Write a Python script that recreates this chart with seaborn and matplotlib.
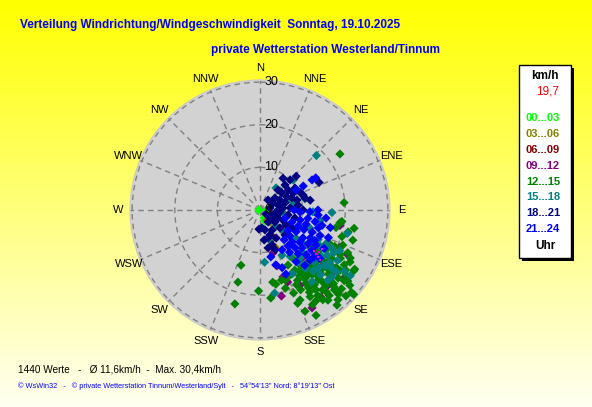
import numpy as np
import pandas as pd
import matplotlib
matplotlib.use('Agg')
import matplotlib.pyplot as plt
from matplotlib.patches import Rectangle
import seaborn as sns

plt.rcParams['font.family'] = ['Liberation Sans', 'DejaVu Sans']

# Richtung (Grad) und Geschwindigkeit (km/h), je Zeitklasse
dir_0003 = [270, 90, 130, 153, 156, 104, 120]
spd_0003 = [0.3, 1.6, 1.8, 2.1, 2.8, 1.9, 2.4]
dir_0306 = [110, 140, 158, 145, 160, 125]
spd_0306 = [3.5, 3.7, 9.4, 2.9, 9.1, 3.2]
dir_0609 = [158, 155]
spd_0609 = [7.4, 6.9]
dir_0912 = [152, 145, 166, 128, 115, 163, 163, 152, 101, 117, 159, 161, 144, 138, 131, 125, 128, 159, 137, 138, 133, 143]
spd_0912 = [26.0, 25.0, 20.8, 25.4, 20.7, 13.7, 10.5, 20.0, 19.1, 23.0, 18.1, 16.6, 17.3, 23.8, 22.5, 15.2, 16.1, 16.6, 20.3, 15.0, 19.6, 18.3]
dir_1215 = [144, 137, 135, 129, 124, 119, 145, 141, 136, 131, 127, 123, 152, 148, 144, 139, 135, 131, 127,
            149, 146, 141, 137, 134, 130, 146, 153, 150, 153, 145, 139, 135, 132, 130, 116, 113, 116, 121,
            126, 155, 163, 162, 168, 156, 141, 151, 123, 120, 108, 103, 99, 104, 116, 55, 85, 101, 108,
            197, 195, 181, 173, 199, 152, 156, 158, 132, 122, 98, 170, 147, 140, 139, 135, 138, 142, 141, 148, 127,
            133, 138, 142, 147, 128, 133, 125, 129, 137, 143, 148, 150, 154, 158, 160, 134, 139, 144, 121, 118,
            126, 131, 136, 145, 149]
spd_1215 = [16.0, 16.6, 18.4, 19.4, 20.3, 21.5, 17.8, 19.5, 20.3, 21.3, 22.4, 23.6, 18.7, 20.3, 21.7, 22.3, 23.2, 24.3, 25.3,
            22.5, 24.2, 24.7, 25.6, 26.6, 27.5, 13.5, 14.5, 16.3, 21.0, 25.7, 27.9, 28.5, 28.9, 25.8, 19.5, 21.1, 22.9, 18.1,
            16.8, 16.8, 17.2, 19.3, 17.8, 23.1, 28.7, 25.4, 26.2, 24.4, 20.2, 18.3, 19.0, 21.3, 18.3, 22.9, 19.8, 22.5, 22.9,
            17.7, 22.8, 19.0, 20.8, 13.7, 28.0, 26.0, 23.6, 29.6, 26.2, 19.4, 17.2, 19.1, 21.3, 23.5, 24.4, 18.3, 23.8, 25.8, 21.5, 23.5,
            17.5, 17.0, 18.5, 17.0, 21.0, 22.0, 24.5, 26.5, 27.0, 26.5, 25.0, 23.5, 19.5, 21.0, 17.5, 20.0, 20.0, 19.0, 22.0, 24.0,
            20.0, 18.0, 25.0, 22.8, 18.0]
dir_1518 = [46, 48, 36, 47, 76, 92, 92, 100, 105, 170, 153, 127, 117, 117, 120, 127, 134, 142, 127, 123, 140, 139, 128,
            133, 112, 110, 135, 162, 154, 137, 129, 126, 126, 136, 144, 117, 135, 175, 95, 78, 131, 129, 135, 123, 70,
            124, 130, 133, 139, 121, 118, 128, 143, 147]
spd_1518 = [18.4, 10.5, 6.4, 6.5, 10.9, 12.4, 16.9, 14.3, 21.2, 19.8, 16.8, 14.7, 15.3, 17.4, 20.0, 18.1, 17.6, 17.4, 20.5, 21.7, 14.7, 10.8, 10.7,
            7.6, 10.1, 12.5, 5.3, 7.4, 11.8, 20.8, 23.0, 24.5, 26.2, 22.9, 20.8, 21.0, 19.3, 12.3, 5.2, 8.1, 19.8, 21.7, 13.9, 13.9, 7.0,
            19.0, 20.3, 23.0, 19.0, 16.5, 19.0, 13.0, 15.5, 13.0]
dir_1821 = [39, 51, 52, 55, 58, 66, 75, 69, 74, 75, 79, 124, 113, 96, 86, 83, 90, 146, 129, 114, 166, 149, 132, 164, 150,
            161, 45, 45, 47, 36, 71, 79, 174, 183, 42, 100, 103, 135, 159, 65, 63, 64, 63, 62, 75, 85, 97, 129, 114, 120,
            119, 158, 172, 168]
spd_1821 = [3.0, 4.5, 6.5, 8.1, 9.7, 10.3, 10.9, 8.0, 6.1, 4.4, 2.4, 1.7, 3.1, 4.7, 7.1, 9.0, 10.1, 3.4, 4.5, 5.9, 4.8, 5.5, 6.3, 6.8, 7.6,
            8.7, 8.3, 10.0, 11.6, 9.2, 10.7, 12.0, 4.2, 4.5, 6.3, 6.7, 8.4, 8.3, 10.0, 15.3, 8.7, 7.0, 5.2, 3.5, 9.0, 5.4, 3.8, 3.0, 4.6, 7.0,
            8.6, 6.3, 7.1, 9.1]
dir_2124 = [108, 111, 104, 100, 102, 104, 104, 126, 121, 114, 113, 113, 112, 141, 135, 129, 125, 122, 121, 151, 145, 139,
            134, 131, 129, 145, 141, 164, 159, 158, 167, 93, 92, 90, 90, 128, 123, 119, 137, 60, 60, 61, 61, 95, 97, 131,
            113, 107, 119, 107, 132, 135, 142]
spd_2124 = [6.2, 8.0, 9.7, 11.4, 13.2, 15.0, 17.0, 8.1, 9.9, 11.3, 13.3, 15.3, 17.3, 9.0, 10.6, 12.0, 13.8, 15.5, 17.5, 10.7, 12.1, 13.6,
            15.1, 16.8, 18.0, 14.8, 16.7, 13.4, 14.5, 16.2, 11.3, 9.4, 11.7, 13.6, 8.0, 15.4, 12.0, 14.7, 12.1, 15.1, 14.1, 11.6, 9.7, 13.7, 15.6, 9.3,
            9.7, 11.3, 13.5, 14.3, 13.3, 16.6, 10.7]
# letzte Werte (kleine Punkte)
dir_last = [127, 128, 129, 130, 122, 125]
spd_last = [15.8, 16.7, 17.5, 18.3, 17.1, 17.0]

klassen = ['00...03', '03...06', '06...09', '09...12', '12...15', '15...18', '18...21', '21...24']
farben = ['#00FF00', '#808000', '#800000', '#800080', '#008000', '#008080', '#000080', '#0000FF']
richtungen = ['N', 'NNE', 'NE', 'ENE', 'E', 'ESE', 'SE', 'SSE', 'S', 'SSW', 'SW', 'WSW', 'W', 'WNW', 'NW', 'NNW']
ringe = [0, 10, 20, 30]

dirs = [dir_0003, dir_0306, dir_0609, dir_0912, dir_1215, dir_1518, dir_1821, dir_2124]
spds = [spd_0003, spd_0306, spd_0609, spd_0912, spd_1215, spd_1518, spd_1821, spd_2124]
frames = []
for k, d, s in zip(klassen, dirs, spds):
    frames.append(pd.DataFrame({'theta': np.deg2rad(d), 'speed': s, 'zeit': k}))
df = pd.concat(frames, ignore_index=True)

fig = plt.figure(figsize=(5.92, 4.07), dpi=100)

# Hintergrund: gelber Verlauf
bg = fig.add_axes([0, 0, 1, 1])
t = np.linspace(0, 1, 256)[:, None]
top = np.array([1.0, 1.0, 0.0])
bot = np.array([1.0, 1.0, 0.95])
grad = top[None, None, :] * (1 - t[:, :, None]) + bot[None, None, :] * t[:, :, None]
bg.imshow(np.repeat(grad, 2, axis=1), aspect='auto', extent=[0, 1, 0, 1], origin='upper')
bg.set_axis_off()

ax = fig.add_axes([130 / 592, 67 / 407, 260 / 592, 260 / 407], projection='polar')
ax.set_theta_zero_location('N')
ax.set_theta_direction(-1)
ax.set_facecolor('#D2D2D2')
ax.spines['polar'].set_color('#C8C8C8')

sns.scatterplot(data=df, x='theta', y='speed', hue='zeit', hue_order=klassen, palette=farben,
                marker='D', s=22, linewidth=0, legend=False, ax=ax, zorder=3)
ax.scatter(np.deg2rad(dir_last), spd_last, marker='s', s=3, color='#FF00FF', linewidths=0, zorder=4)

ax.set_ylim(0, 30.5)
ax.set_yticks(ringe[1:])
ax.set_yticklabels([])
ax.set_xticks(np.deg2rad(np.arange(0, 360, 22.5)))
ax.set_xticklabels([])
ax.grid(True, color='#808080', linestyle=(0, (4, 3)), linewidth=1)
ax.set_xlabel('')
ax.set_ylabel('')

for i, name in enumerate(richtungen):
    ax.text(np.deg2rad(i * 22.5), 33.3, name, ha='center', va='center', fontsize=8, clip_on=False)
for r in ringe:
    ax.annotate(str(r), xy=(0, r), xytext=(3, 0), textcoords='offset points',
                ha='left', va='center', fontsize=9, zorder=5)

fig.text(20 / 592, 1 - 25 / 407, 'Verteilung Windrichtung/Windgeschwindigkeit  Sonntag, 19.10.2025',
         color='#0000FF', fontsize=8.5, fontweight='bold', va='center')
fig.text(211 / 592, 1 - 50 / 407, 'private Wetterstation Westerland/Tinnum',
         color='#0000FF', fontsize=8.5, fontweight='bold', va='center')

# Legendenkasten mit Schatten
fig.patches.append(Rectangle((522 / 592, 1 - 261 / 407), 52 / 592, 193 / 407, transform=fig.transFigure,
                             facecolor='black', edgecolor='none', zorder=1))
fig.patches.append(Rectangle((519 / 592, 1 - 258 / 407), 52 / 592, 193 / 407, transform=fig.transFigure,
                             facecolor='white', edgecolor='black', linewidth=1, zorder=2))
fig.text(545 / 592, 1 - 76 / 407, 'km/h', fontsize=8.5, fontweight='bold', ha='center', va='center')
fig.text(559 / 592, 1 - 91 / 407, '19,7', fontsize=8.5, color='#FF0000', ha='right', va='center')
for i, (k, c) in enumerate(zip(klassen, farben)):
    fig.text(543 / 592, 1 - (118 + i * 15.9) / 407, k, fontsize=8, fontweight='bold',
             color=c, ha='center', va='center')
fig.text(545 / 592, 1 - 246 / 407, 'Uhr', fontsize=8.5, fontweight='bold', ha='center', va='center')

fig.text(18 / 592, 1 - 369 / 407, '1440 Werte   -   Ø 11,6km/h  -  Max. 30,4km/h',
         fontsize=7.2, va='center')
fig.text(18 / 592, 1 - 386 / 407,
         "© WsWin32   -   © private Wetterstation Tinnum/Westerland/Sylt   -   54°54'13\" Nord; 8°19'13\" Ost",
         fontsize=5.3, color='#0000FF', va='center')

fig.savefig('out.png', dpi=100)
